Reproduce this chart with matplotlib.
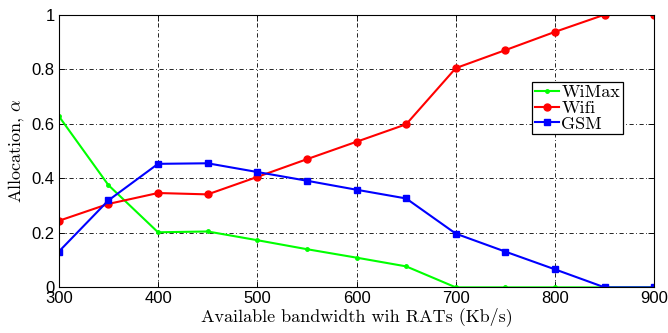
import numpy as np
import matplotlib
matplotlib.use("Agg")
import matplotlib.pyplot as plt

bandwidth = [300, 350, 400, 450, 500, 550, 600, 650, 700, 750, 800, 850, 900]
wimax = [0.628, 0.375, 0.202, 0.205, 0.173, 0.140, 0.109, 0.077, 0.0, 0.0, 0.0, 0.0, 0.0]
wifi = [0.244, 0.306, 0.346, 0.341, 0.405, 0.470, 0.534, 0.598, 0.804, 0.870, 0.937, 1.0, 1.0]
gsm = [0.131, 0.319, 0.453, 0.455, 0.423, 0.391, 0.358, 0.326, 0.197, 0.131, 0.066, 0.0, 0.0]

plt.rcParams["mathtext.fontset"] = "cm"
plt.rcParams["axes.unicode_minus"] = False

fig = plt.figure(figsize=(6.68, 3.33), dpi=100)
ax = fig.add_axes([0.088, 0.137, 0.8915, 0.819])

ax.plot(bandwidth, wimax, color=(0, 1, 0), lw=1.5, marker=".", ms=5, label="WiMax")
ax.plot(bandwidth, wifi, color=(1, 0, 0), lw=1.5, marker="o", ms=5, label="Wifi")
ax.plot(bandwidth, gsm, color=(0, 0, 1), lw=1.5, marker="s", ms=4.5, label="GSM")

ax.set_xlim(300, 900)
ax.set_ylim(0, 1)
ax.set_xticks(np.arange(300, 901, 100))
ax.set_yticks([0, 0.2, 0.4, 0.6, 0.8, 1.0])
ax.set_yticklabels(["0", "0.2", "0.4", "0.6", "0.8", "1"])
ax.tick_params(direction="in", top=True, right=True, length=4, width=0.6,
               labelsize=12)
ax.tick_params(axis="x", pad=2.5)
ax.tick_params(axis="y", pad=3)
for lbl in ax.get_xticklabels() + ax.get_yticklabels():
    lbl.set_fontfamily("Liberation Sans")

ax.grid(True, color="black", lw=0.6, linestyle=(0, (5, 3, 1, 3)))
ax.set_axisbelow(True)
for sp in ax.spines.values():
    sp.set_linewidth(0.8)

ax.set_xlabel("Available bandwidth wih RATs (Kb/s)", fontfamily="cmr10",
              fontsize=13, labelpad=1)
ax.set_ylabel(r"Allocation, $\alpha$", fontfamily="cmr10", fontsize=13, labelpad=4)

leg = ax.legend(loc="upper right", bbox_to_anchor=(0.947, 0.753), borderaxespad=0,
                prop={"family": "cmr10", "size": 13}, fancybox=False,
                edgecolor="black", framealpha=1, handlelength=1.3,
                handletextpad=0.15, borderpad=0.15, labelspacing=0.0)
leg.get_frame().set_linewidth(0.9)

fig.savefig("out.png", dpi=100)
